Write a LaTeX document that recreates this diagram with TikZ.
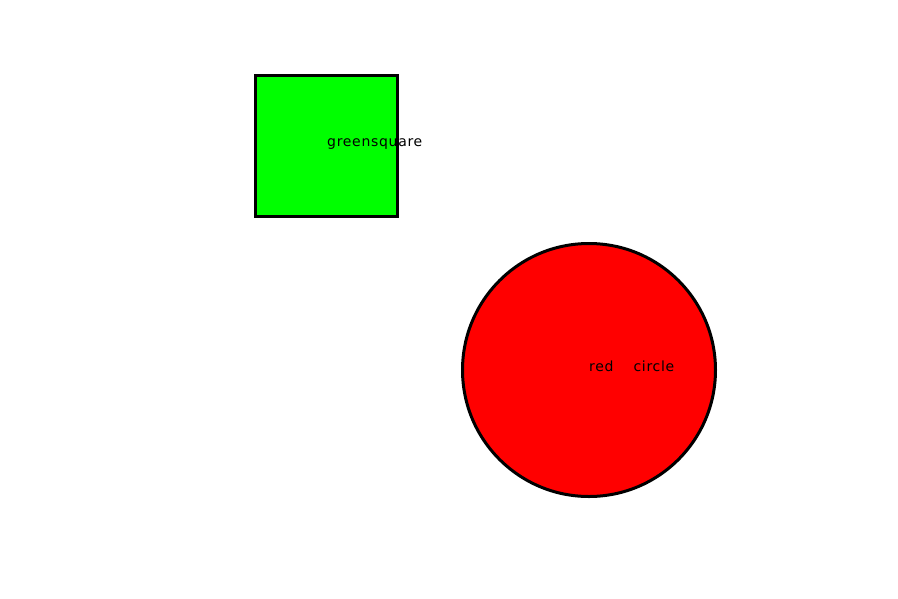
\documentclass[tikz,border=0pt]{standalone}
\usepackage{fontspec}
\setmainfont{DejaVu Sans}[LetterSpace=5]
\usepackage{xcolor}
\usepackage{tikz}
\definecolor{squaregreen}{RGB}{0,255,0}
\definecolor{circlered}{RGB}{255,0,0}
\tikzset{shapeline/.style={black,line width=3pt},
         shapelabel/.style={font=\fontsize{14}{16}\selectfont,inner sep=0pt,anchor=base west}}

\begin{document}
\begin{tikzpicture}[x=1pt,y=-1pt]
\useasboundingbox (0,0) rectangle (898,598);
\begin{scope}
    \filldraw[shapeline,fill=squaregreen] (255,75) rectangle (397,216);
    \node[shapelabel] (greenlabel) at (327,146) {greensquare};

    \filldraw[shapeline,fill=circlered] (589,370) circle(126.5);
    \node[shapelabel] (redlabel) at (589,371) {red\hspace{20pt}circle};
\end{scope}
\end{tikzpicture}
\end{document}
